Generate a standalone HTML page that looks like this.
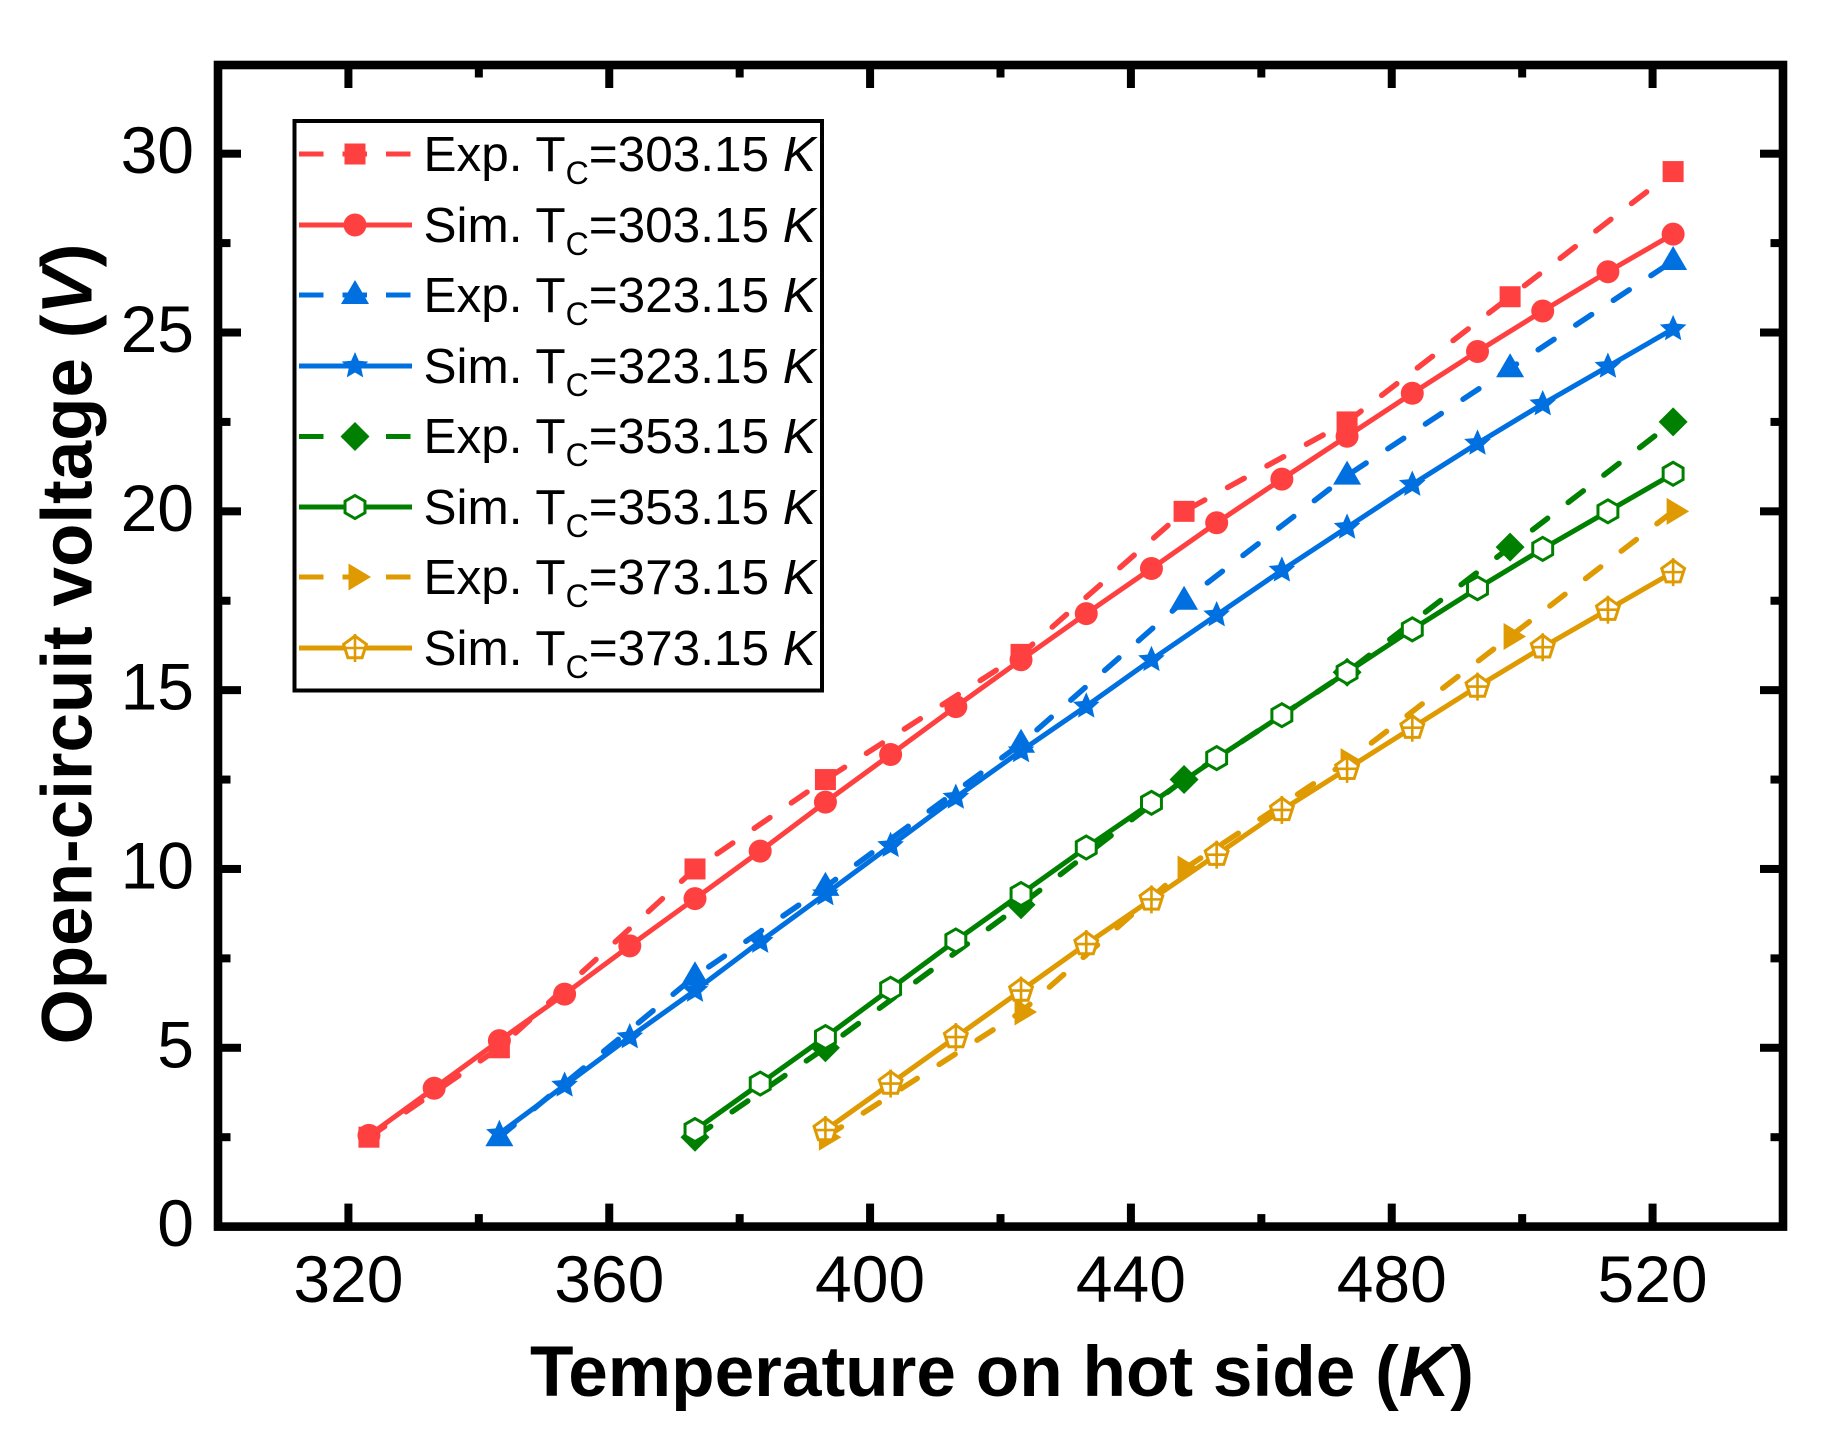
<!DOCTYPE html>
<html lang="en">
<head>
<meta charset="utf-8">
<title>Open-circuit voltage vs hot side temperature</title>
<style>
html,body{margin:0;padding:0;background:#fff;}
svg{display:block;font-family:"Liberation Sans",Arial,sans-serif;}
</style>
</head>
<body>
<svg id="chart" xmlns="http://www.w3.org/2000/svg" width="1822" height="1444" viewBox="0 0 1822 1444">
  <rect x="0" y="0" width="1822" height="1444" fill="#fff"/>
  <g id="marks"></g>
  <g id="axes"></g>
  <rect x="218" y="65" width="1565" height="1161.6" fill="none" stroke="#000" stroke-width="8.6"/>
  <text x="1002" y="1396" font-size="71.2" font-weight="700" text-anchor="middle">Temperature on hot side (<tspan font-style="italic">K</tspan>)</text>
  <text transform="translate(91.5,644) rotate(-90)" font-size="71" font-weight="700" text-anchor="middle">Open-circuit voltage (<tspan font-style="italic">V</tspan>)</text>
  <g id="legend">
    <rect x="294.5" y="121" width="527.5" height="569.5" fill="#fff" stroke="#000" stroke-width="4"/>
    <text x="423.5" y="171" font-size="49.5">Exp. T<tspan font-size="32" dy="13">C</tspan><tspan dy="-13">=303.15 </tspan><tspan font-style="italic">K</tspan></text>
    <text x="423.5" y="242" font-size="49.5">Sim. T<tspan font-size="32" dy="13">C</tspan><tspan dy="-13">=303.15 </tspan><tspan font-style="italic">K</tspan></text>
    <text x="423.5" y="312" font-size="49.5">Exp. T<tspan font-size="32" dy="13">C</tspan><tspan dy="-13">=323.15 </tspan><tspan font-style="italic">K</tspan></text>
    <text x="423.5" y="383" font-size="49.5">Sim. T<tspan font-size="32" dy="13">C</tspan><tspan dy="-13">=323.15 </tspan><tspan font-style="italic">K</tspan></text>
    <text x="423.5" y="453" font-size="49.5">Exp. T<tspan font-size="32" dy="13">C</tspan><tspan dy="-13">=353.15 </tspan><tspan font-style="italic">K</tspan></text>
    <text x="423.5" y="524" font-size="49.5">Sim. T<tspan font-size="32" dy="13">C</tspan><tspan dy="-13">=353.15 </tspan><tspan font-style="italic">K</tspan></text>
    <text x="423.5" y="594" font-size="49.5">Exp. T<tspan font-size="32" dy="13">C</tspan><tspan dy="-13">=373.15 </tspan><tspan font-style="italic">K</tspan></text>
    <text x="423.5" y="665" font-size="49.5">Sim. T<tspan font-size="32" dy="13">C</tspan><tspan dy="-13">=373.15 </tspan><tspan font-style="italic">K</tspan></text>
  </g>
</svg>
<script>
// ---- Data ----
const xTickLabels = [320, 360, 400, 440, 480, 520];
const xMinorTicks = [340, 380, 420, 460, 500];
const yTickLabels = [0, 5, 10, 15, 20, 25, 30];
const yMinorTicks = [2.5, 7.5, 12.5, 17.5, 22.5, 27.5];

const expT303 = [323.15, 343.15, 373.15, 393.15, 423.15, 448.15, 473.15, 498.15, 523.15];
const expV303 = [2.5, 5, 10, 12.5, 16, 20, 22.5, 26, 29.5];
const simT303 = [323.15, 333.15, 343.15, 353.15, 363.15, 373.15, 383.15, 393.15, 403.15, 413.15, 423.15, 433.15, 443.15, 453.15, 463.15, 473.15, 483.15, 493.15, 503.15, 513.15, 523.15];
const simV303 = [2.55, 3.87, 5.2, 6.5, 7.85, 9.17, 10.5, 11.87, 13.2, 14.54, 15.85, 17.14, 18.4, 19.68, 20.9, 22.1, 23.3, 24.47, 25.6, 26.7, 27.75];

const expT323 = [343.15, 373.15, 393.15, 423.15, 448.15, 473.15, 498.15, 523.15];
const expV323 = [2.5, 7, 9.5, 13.5, 17.5, 21, 24, 27];
const simT323 = [343.15, 353.15, 363.15, 373.15, 383.15, 393.15, 403.15, 413.15, 423.15, 433.15, 443.15, 453.15, 463.15, 473.15, 483.15, 493.15, 503.15, 513.15, 523.15];
const simV323 = [2.6, 3.95, 5.3, 6.6, 7.97, 9.3, 10.65, 12, 13.3, 14.55, 15.85, 17.1, 18.35, 19.55, 20.75, 21.9, 23, 24.05, 25.1];

const expT353 = [373.15, 393.15, 423.15, 448.15, 473.15, 498.15, 523.15];
const expV353 = [2.5, 5, 9, 12.5, 15.5, 19, 22.5];
const simT353 = [373.15, 383.15, 393.15, 403.15, 413.15, 423.15, 433.15, 443.15, 453.15, 463.15, 473.15, 483.15, 493.15, 503.15, 513.15, 523.15];
const simV353 = [2.7, 4, 5.3, 6.65, 8, 9.3, 10.6, 11.85, 13.1, 14.3, 15.5, 16.7, 17.85, 18.95, 20, 21.05];

const expT373 = [393.15, 423.15, 448.15, 473.15, 498.15, 523.15];
const expV373 = [2.5, 6, 10, 13, 16.5, 20];
const simT373 = [393.15, 403.15, 413.15, 423.15, 433.15, 443.15, 453.15, 463.15, 473.15, 483.15, 493.15, 503.15, 513.15, 523.15];
const simV373 = [2.7, 4, 5.3, 6.6, 7.9, 9.15, 10.4, 11.65, 12.8, 13.95, 15.1, 16.2, 17.25, 18.3];

// ---- Colours ----
const RED = '#ff4040', BLUE = '#0070e0', GREEN = '#008000', ORANGE = '#de9a00';

// ---- Axis functions ----
const X0 = 218, X1 = 1783, Y0 = 1226.6, Y1 = 65;
const XMIN = 300, XMAX = 540, YMIN = 0, YMAX = 32.48;
function xScale(t) { return X0 + (t - XMIN) / (XMAX - XMIN) * (X1 - X0); }
function yScale(v) { return Y0 - (v - YMIN) / (YMAX - YMIN) * (Y0 - Y1); }

const NS = 'http://www.w3.org/2000/svg';
function mk(tag, attrs, parent) {
  const e = document.createElementNS(NS, tag);
  for (const k in attrs) e.setAttribute(k, attrs[k]);
  if (parent) parent.appendChild(e);
  return e;
}
function pts(list, cx, cy) {
  return list.map(function (p) { return (cx + p[0]).toFixed(2) + ',' + (cy + p[1]).toFixed(2); }).join(' ');
}
function radial(n, r1, r2) {
  const out = [];
  const m = r2 ? n * 2 : n;
  for (let i = 0; i < m; i++) {
    const a = -Math.PI / 2 + i * 2 * Math.PI / m;
    const r = (r2 && i % 2) ? r2 : r1;
    out.push([r * Math.cos(a), r * Math.sin(a)]);
  }
  return out;
}
function drawMarker(kind, cx, cy, color, parent) {
  const g = mk('g', {}, parent);
  if (kind === 'square') {
    mk('rect', { x: cx - 10.5, y: cy - 10.5, width: 21, height: 21, fill: color }, g);
  } else if (kind === 'circle') {
    mk('circle', { cx: cx, cy: cy, r: 11.5, fill: color }, g);
  } else if (kind === 'triangle') {
    mk('polygon', { points: pts([[0, -15], [14, 9], [-14, 9]], cx, cy), fill: color }, g);
  } else if (kind === 'star') {
    mk('polygon', { points: pts(radial(5, 14, 6.5), cx, cy), fill: color }, g);
  } else if (kind === 'diamond') {
    mk('polygon', { points: pts([[0, -14.5], [14.5, 0], [0, 14.5], [-14.5, 0]], cx, cy), fill: color }, g);
  } else if (kind === 'right') {
    mk('polygon', { points: pts([[-6.5, -13.5], [16, 0], [-6.5, 13.5]], cx, cy), fill: color }, g);
  } else if (kind === 'hexagon') {
    mk('polygon', { points: pts(radial(6, 11.5), cx, cy), fill: '#fff', stroke: color, 'stroke-width': 3 }, g);
  } else if (kind === 'pentagon') {
    mk('polygon', { points: pts(radial(5, 12), cx, cy), fill: '#fff', stroke: color, 'stroke-width': 3 }, g);
    mk('line', { x1: cx, y1: cy - 14, x2: cx, y2: cy + 14, stroke: color, 'stroke-width': 2.6 }, g);
    mk('line', { x1: cx - 11, y1: cy, x2: cx + 11, y2: cy, stroke: color, 'stroke-width': 2.6 }, g);
  }
  return g;
}
function drawSeries(name, temps, vals, color, dashed, kind) {
  const marks = document.getElementById('marks');
  const group = mk('g', {}, marks);
  
  
  const points = temps.map(function (t, i) { return xScale(t).toFixed(2) + ',' + yScale(vals[i]).toFixed(2); }).join(' ');
  const line = mk('polyline', { points: points, fill: 'none', stroke: color, 'stroke-width': dashed ? 5.5 : 5, 'stroke-linecap': 'round', 'stroke-linejoin': 'round' }, group);
  if (dashed) line.setAttribute('stroke-dasharray', '19 26');
  
  
  temps.forEach(function (t, i) {
    const m = drawMarker(kind, xScale(t), yScale(vals[i]), color, group);
    
    
  });
}

// ---- Series ----
drawSeries('exp-303', expT303, expV303, RED, true, 'square');
drawSeries('sim-303', simT303, simV303, RED, false, 'circle');
drawSeries('exp-323', expT323, expV323, BLUE, true, 'triangle');
drawSeries('sim-323', simT323, simV323, BLUE, false, 'star');
drawSeries('exp-353', expT353, expV353, GREEN, true, 'diamond');
drawSeries('sim-353', simT353, simV353, GREEN, false, 'hexagon');
drawSeries('exp-373', expT373, expV373, ORANGE, true, 'right');
drawSeries('sim-373', simT373, simV373, ORANGE, false, 'pentagon');

// ---- Axes ----
const axes = document.getElementById('axes');
function tickRect(x, y, w, h, name) {
  const r = mk('rect', { x: x, y: y, width: w, height: h, fill: '#000' }, axes);
  
  
}
const MAJOR = 23, MINOR = 12.5, TW = 8;
xTickLabels.forEach(function (t) {
  const x = xScale(t);
  tickRect(x - TW / 2, Y0 - MAJOR, TW, MAJOR, 'x-major-tick');
  tickRect(x - TW / 2, Y1, TW, MAJOR, 'x-top-major-tick');
  const lab = mk('text', { x: x, y: 1302, 'font-size': 66, 'text-anchor': 'middle' }, axes);
  lab.textContent = String(t);
  
  
});
xMinorTicks.forEach(function (t) {
  const x = xScale(t);
  tickRect(x - TW / 2, Y0 - MINOR, TW, MINOR, 'x-minor-tick');
  tickRect(x - TW / 2, Y1, TW, MINOR, 'x-top-minor-tick');
});
yTickLabels.forEach(function (v) {
  const y = yScale(v);
  tickRect(X0, y - TW / 2, MAJOR, TW, 'y-major-tick');
  tickRect(X1 - MAJOR, y - TW / 2, MAJOR, TW, 'y-right-major-tick');
  const lab = mk('text', { x: 194, y: y + 19.5, 'font-size': 66, 'text-anchor': 'end' }, axes);
  lab.textContent = String(v);
  
  
});
yMinorTicks.forEach(function (v) {
  const y = yScale(v);
  tickRect(X0, y - TW / 2, MINOR, TW, 'y-minor-tick');
  tickRect(X1 - MINOR, y - TW / 2, MINOR, TW, 'y-right-minor-tick');
});

// ---- Legend keys ----
const legendKinds = ['square', 'circle', 'triangle', 'star', 'diamond', 'hexagon', 'right', 'pentagon'];
const legendColors = [RED, RED, BLUE, BLUE, GREEN, GREEN, ORANGE, ORANGE];
const legendRows = [154, 225, 295, 366, 436.5, 507, 577, 648];
const legend = document.getElementById('legend');
legendKinds.forEach(function (kind, i) {
  const dashed = i % 2 === 0;
  const y = legendRows[i];
  const ln = mk('line', { x1: 299, y1: y, x2: 412, y2: y, stroke: legendColors[i], 'stroke-width': 5 }, legend);
  if (dashed) ln.setAttribute('stroke-dasharray', '24.5 19');
  
  
  const mkr = drawMarker(kind, 355, y, legendColors[i], legend);
  
  
});
</script>
</body>
</html>
